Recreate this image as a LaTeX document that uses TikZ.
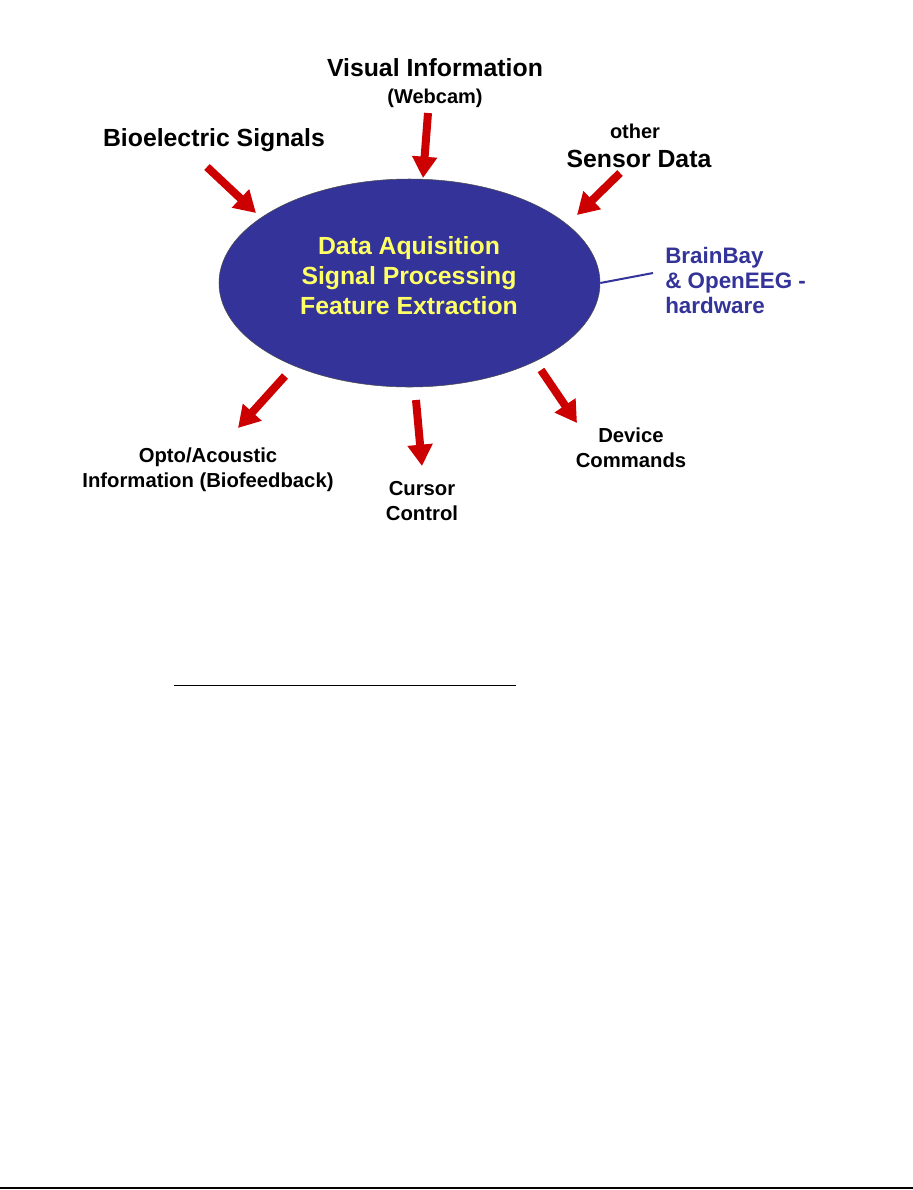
\documentclass[tikz,border=0pt]{standalone}
\usepackage{fontspec}
\setmainfont{Liberation Sans}
\usepackage{xcolor}
\usetikzlibrary{arrows.meta,positioning,shapes.geometric}
\definecolor{procblue}{HTML}{333399}
\definecolor{procyellow}{HTML}{FFFF66}
\definecolor{arrowred}{HTML}{CC0000}
\begin{document}
\begin{tikzpicture}[x=0.75pt,y=-0.75pt,
blob/.style={ellipse, draw=black!70, fill=procblue, minimum width=285.75pt, minimum height=156pt, inner sep=0pt},
intext/.style={align=center, text=procyellow, font=\bfseries\fontsize{18.6}{22.5}\selectfont, inner sep=0pt, anchor=base},
big/.style={font=\bfseries\fontsize{18.6}{22}\selectfont, inner sep=0pt, anchor=base},
small/.style={font=\bfseries\fontsize{15}{18}\selectfont, inner sep=0pt, anchor=base},
outtext/.style={align=center, font=\bfseries\fontsize{15.2}{18.75}\selectfont, inner sep=0pt, anchor=base},
hwtext/.style={align=left, text=procblue, font=\bfseries\fontsize{16.8}{18.75}\selectfont, inner sep=0pt, anchor=base west},
arrow/.style={-{Triangle[width=18pt,length=16pt]}, line width=6pt, arrowred}
]
\useasboundingbox (0,0) rectangle (913,1190);
\node[blob] (proc) at (409.5,283) {};
\node[intext] (proctxt) at (409,314) {Data Aquisition\\Signal Processing\\Feature Extraction};
\node[big] (visual) at (435,76) {Visual Information};
\node[small] (webcam) at (435,103) {(Webcam)};
\node[big] (bio) at (214,146) {Bioelectric Signals};
\node[small] (other) at (635,138) {other};
\node[big] (sensor) at (639,167) {Sensor Data};
\node[hwtext] (hw) at (665,313) {BrainBay\\\& OpenEEG -\\hardware};
\node[outtext] (opto) at (208,487) {Opto/Acoustic\\Information (Biofeedback)};
\node[outtext] (cursor) at (422,520) {Cursor\\Control};
\node[outtext] (device) at (631,467) {Device\\Commands};
% inputs
\coordinate (bio-a) at (207,167);
\coordinate (bio-b) at (256,213);
\coordinate (vis-a) at (428,113);
\coordinate (vis-b) at (423,178);
\coordinate (sen-a) at (620,173);
\coordinate (sen-b) at (577,215);
% outputs
\coordinate (opto-a) at (285,376);
\coordinate (opto-b) at (238,428);
\coordinate (cur-a) at (416,400);
\coordinate (cur-b) at (422,466);
\coordinate (dev-a) at (541,370);
\coordinate (dev-b) at (577,423);
\coordinate (hw-end) at (653,273);
\draw[arrow] (bio-a) -- (bio-b);
\draw[arrow] (vis-a) -- (vis-b);
\draw[arrow] (sen-a) -- (sen-b);
\draw[arrow] (opto-a) -- (opto-b);
\draw[arrow] (cur-a) -- (cur-b);
\draw[arrow] (dev-a) -- (dev-b);
\draw[procblue, line width=1.5pt] (proc.east) -- (hw-end);
\draw[line width=0.75pt] (174,685) -- (516,685);
\draw[line width=1.5pt] (0,1188) -- (913,1188);
\end{tikzpicture}
\end{document}
